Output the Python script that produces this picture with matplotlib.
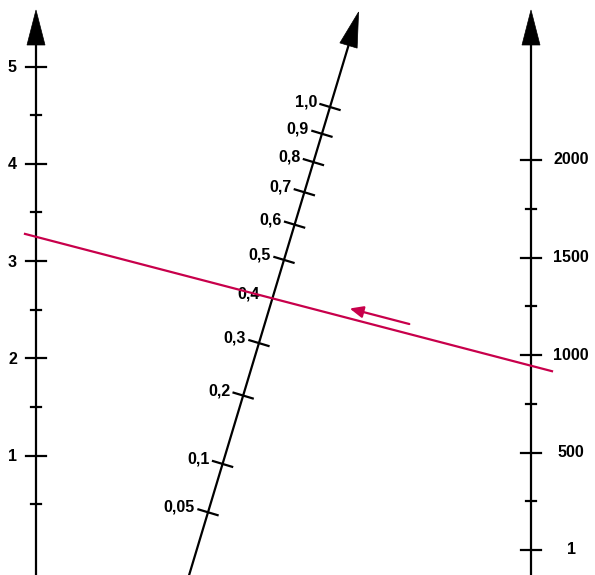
import numpy as np
import matplotlib.pyplot as plt
from matplotlib.patches import Polygon

plt.rcParams['font.family'] = ['Liberation Sans', 'DejaVu Sans']

# left scale (linear)
left_major = [1, 2, 3, 4, 5]
left_minor = [0.5, 1.5, 2.5, 3.5, 4.5]
# right scale (linear)
right_major = [0, 500, 1000, 1500, 2000]
right_labels = ["1", "500", "1000", "1500", "2000"]
right_minor = [250, 750, 1250, 1750]
# middle scale (square root)
mid_values = [0.05, 0.1, 0.2, 0.3, 0.4, 0.5, 0.6, 0.7, 0.8, 0.9, 1.0]
mid_labels = ["0,05", "0,1", "0,2", "0,3", "0,4", "0,5", "0,6", "0,7", "0,8", "0,9", "1,0"]
# reading line: value on left scale, value on right scale
read_left = 3.25
read_right = 945

W, H = 595, 575
LX, RX = 36, 531
LW = 1.6
RED = '#c8004b'
FS = 11.5


def left_y(v):
    return 553 - 97.3 * np.asarray(v, float)


def right_y(v):
    return 550 - 0.195 * np.asarray(v, float)


def mid_xy(v):
    y = 629 - 522 * np.sqrt(np.asarray(v, float))
    x = 330 - 0.301 * (y - 107)
    return x, y


fig = plt.figure(figsize=(W / 100, H / 100), dpi=100)
ax = fig.add_axes([0, 0, 1, 1])
ax.set_xlim(0, W)
ax.set_ylim(H, 0)
ax.axis('off')


def arrow_head(ax, tip, direction, length=35, half=9):
    d = np.asarray(direction, float)
    d = d / np.hypot(*d)
    n = np.array([-d[1], d[0]])
    tip = np.asarray(tip, float)
    base = tip - d * length
    pts = [tip, base + n * half, base - n * half]
    ax.add_patch(Polygon(pts, closed=True, fc='black', ec='black', lw=0.5, zorder=4))


# left axis
ax.plot([LX, LX], [H, 40], color='black', lw=LW, zorder=3)
arrow_head(ax, (LX, 10), (0, -1))
for v, y in zip(left_major, left_y(left_major)):
    ax.plot([LX - 10, LX + 10], [y, y], color='black', lw=LW, zorder=3)
    ax.text(LX - 19, y + 1, str(v), ha='right', va='center', fontsize=FS, fontweight='bold')
for y in left_y(left_minor):
    ax.plot([LX - 5, LX + 5], [y, y], color='black', lw=LW, zorder=3)

# right axis
ax.plot([RX, RX], [H, 40], color='black', lw=LW, zorder=3)
arrow_head(ax, (RX, 10), (0, -1))
for lab, y in zip(right_labels, right_y(right_major)):
    ax.plot([RX - 10, RX + 10], [y, y], color='black', lw=LW, zorder=3)
    ax.text(571, y, lab, ha='center', va='center', fontsize=FS, fontweight='bold')
for y in right_y(right_minor):
    ax.plot([RX - 5, RX + 5], [y, y], color='black', lw=LW, zorder=3)

# middle axis
d = np.array([0.301, -1.0])
d = d / np.hypot(*d)
nrm = np.array([-d[1], d[0]])  # points right/down
bx = 330 - 0.301 * (H - 107)
tip = np.array([330 - 0.301 * (12 - 107), 12])
ax.plot([bx, tip[0] - d[0] * 30], [H, tip[1] - d[1] * 30], color='black', lw=LW, zorder=3)
arrow_head(ax, tip, d)
mx, my = mid_xy(mid_values)
for x, y, lab in zip(mx, my, mid_labels):
    if lab != "0,4":
        ax.plot([x - nrm[0] * 10, x + nrm[0] * 10], [y - nrm[1] * 10, y + nrm[1] * 10],
                color='black', lw=LW, zorder=3)
    ax.text(x - 13, y - 5, lab, ha='right', va='center', fontsize=FS, fontweight='bold')

# reading line
y0, y1 = left_y(read_left), right_y(read_right)
slope = (y1 - y0) / (RX - LX)
xs = np.array([25, 552])
ax.plot(xs, y0 + slope * (xs - LX), color=RED, lw=LW, zorder=5)

# direction arrow just above the reading line
ax.annotate('', xy=(347, y0 + slope * (347 - LX) - 10), xytext=(412, y0 + slope * (412 - LX) - 10),
            arrowprops=dict(arrowstyle='-|>,head_length=0.8,head_width=0.35', color=RED, lw=LW))

fig.savefig('out.png', dpi=100)
